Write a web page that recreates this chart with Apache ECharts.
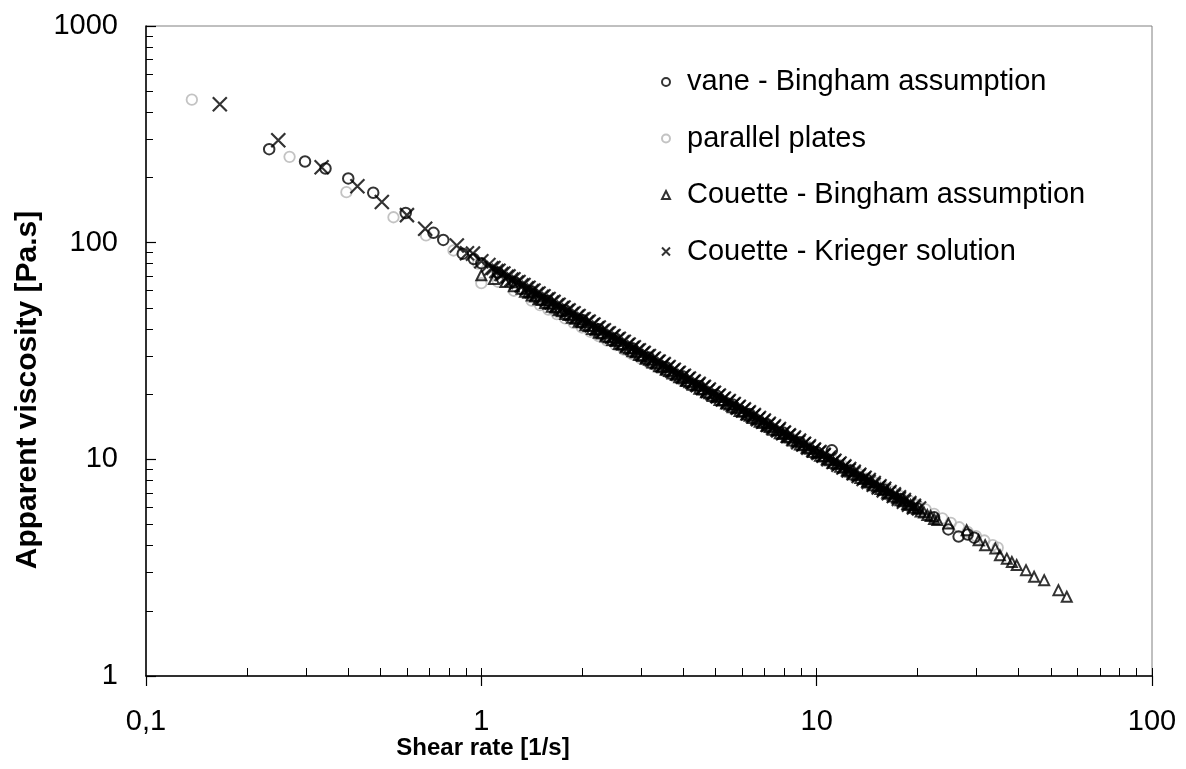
<!DOCTYPE html>
<html>
<head>
<meta charset="utf-8">
<script src="https://cdn.jsdelivr.net/npm/echarts@6/dist/echarts.min.js"></script>
<style>
html,body{margin:0;padding:0;background:#fff;}
#chart{width:1186px;height:769px;}
</style>
</head>
<body>
<div id="chart"></div>
<script>
// ---------- data ----------
const seriesNames = ['vane - Bingham assumption', 'parallel plates', 'Couette - Bingham assumption', 'Couette - Krieger solution'];

const vaneX = [0.233,0.298,0.343,0.401,0.476,0.595,0.72,0.77,0.88,0.95,1.0,1.12,1.26,1.41,1.58,1.78,2.0,2.24,2.51,2.82,3.16,3.55,3.98,4.47,5.01,5.62,6.31,7.08,7.94,8.91,10.0,11.1,12.6,14.1,15.8,17.8,20.0,22.4,24.7,26.5,28.2,29.5];
const vaneY = [270,237,220,198,170,137,111,103,89,84,80.4,72.8,65.7,59.6,54.0,48.7,44.0,39.8,36.1,32.6,29.5,26.7,24.2,21.8,19.8,17.9,16.2,14.6,13.3,12.0,10.8,11.0,8.87,8.04,7.28,6.56,5.93,5.4,4.75,4.4,4.5,4.35];

const plateX = [0.137,0.268,0.396,0.547,0.684,0.826,0.978,1.0,1.12,1.25,
  1.413,1.496,1.585,1.679,1.778,1.884,1.995,2.113,2.239,2.371,2.512,2.661,2.818,2.985,3.162,3.350,3.548,3.758,3.981,4.217,4.467,4.732,5.012,5.309,5.623,5.957,6.310,6.683,7.079,7.499,7.943,8.414,8.913,9.441,10.0,10.59,11.22,11.89,12.59,13.34,14.13,14.96,15.85,16.79,17.78,18.84,19.95,21.13,22.39,23.71,25.12,26.61,28.18,29.85,31.62,33.50,34.67];
const plateY = [457,249,171,131,108,92,80,65,66,60,
  54.0,51.5,49.1,46.8,44.7,42.6,40.6,38.8,37.0,35.3,33.7,32.1,30.6,29.2,27.9,26.6,25.4,24.2,23.1,22.0,21.0,20.0,19.1,18.2,17.4,16.6,15.8,15.1,14.4,13.7,13.1,12.5,11.9,11.4,10.8,10.3,9.86,9.41,8.97,8.56,8.17,7.79,7.43,7.09,6.76,6.45,6.15,5.87,5.60,5.34,5.09,4.86,4.63,4.42,4.22,4.02,3.91];

const couetteBX = [1.0,1.09,1.18,1.25,
  1.318,1.380,1.445,1.514,1.585,1.660,1.738,1.820,1.905,1.995,2.089,2.188,2.291,2.399,2.512,2.630,2.754,2.884,3.020,3.162,3.311,3.467,3.631,3.802,3.981,4.169,4.365,4.571,4.786,5.012,5.248,5.495,5.754,6.026,6.310,6.607,6.918,7.244,7.586,7.943,8.318,8.710,9.120,9.550,10.0,10.47,10.96,11.48,12.02,12.59,13.18,13.80,14.45,15.14,15.85,16.60,17.38,18.20,19.05,19.95,20.89,21.88,22.91,
  24.7,28.0,30.4,31.8,34.1,35.2,36.9,38.2,39.5,42.1,44.5,47.7,52.6,55.7,
  1.349,1.413,1.479,1.549,1.622,1.698,1.778,1.862,1.950,2.042,2.138,2.239,2.344,2.455,2.570,2.692,2.818,2.951,3.090,3.236,3.388,3.548,3.715,3.890,4.074,4.266,4.467,4.677,4.898,5.129,5.370,5.623,5.888,6.166,6.457,6.761,7.079,7.413,7.762,8.128,8.511,8.913,9.333,9.772,10.23,10.72,11.22,11.75,12.30,12.88,13.49,14.13,14.79,15.49,16.22,16.98,17.78,18.62,19.50,20.42,21.38,22.39];
const couetteBY = [70.7,68,65.8,63,
  61.2,58.8,56.5,54.4,52.2,50.2,48.3,46.4,44.6,42.9,41.2,39.6,38.1,36.6,35.2,33.8,32.5,31.2,30.0,28.8,27.7,26.6,25.6,24.6,23.7,22.7,21.9,21.0,20.2,19.4,18.7,17.9,17.2,16.6,15.9,15.3,14.7,14.1,13.6,13.1,12.6,12.1,11.6,11.2,10.7,10.3,9.90,9.51,9.15,8.79,8.45,8.12,7.81,7.50,7.21,6.93,6.66,6.40,6.15,5.92,5.69,5.47,5.25,
  5.05,4.71,4.23,4.01,3.88,3.61,3.48,3.36,3.25,3.08,2.87,2.77,2.49,2.32,
  59.3,57.0,54.8,52.7,50.6,48.7,46.8,45.0,43.2,41.6,39.9,38.4,36.9,35.5,34.1,32.8,31.5,30.3,29.1,28.0,26.9,25.9,24.9,23.9,23.0,22.1,21.2,20.4,19.6,18.8,18.1,17.4,16.7,16.1,15.5,14.9,14.3,13.7,13.2,12.7,12.2,11.7,11.3,10.8,10.4,10.0,9.62,9.25,8.89,8.54,8.21,7.89,7.59,7.29,7.01,6.74,6.48,6.22,5.98,5.75,5.53,5.31];

const kriegerX = [0.166,0.248,0.334,0.427,0.505,0.60,0.68,0.845,0.906,0.944,1.0,
  1.05,1.087,1.125,1.164,1.205,1.247,1.291,1.336,1.383,1.431,1.481,1.533,1.587,1.642,1.7,1.759,1.821,1.885,1.95,2.02,2.09,2.16,2.24,2.32,2.4,2.48,2.57,2.66,2.75,2.85,2.95,3.05,3.16,3.27,3.38,3.5,3.62,3.75,3.88,4.02,4.16,4.3,4.45,4.61,4.77,4.94,5.11,5.29,5.47,5.66,5.86,6.07,6.28,6.5,6.73,6.96,7.2,7.46,7.72,7.99,8.27,8.56,8.86,9.17,9.49,9.82,10.2,10.5,10.9,11.3,11.7,12.1,12.5,12.9,13.4,13.9,14.3,14.8,15.4,15.9,16.5,17.0,17.6,18.2,18.9,19.5,20.2,
  1.072,1.109,1.148,1.189,1.230,1.274,1.318,1.365,1.413,1.462,1.514,1.567,1.622,1.679,1.738,1.799,1.862,1.928,1.995,2.065,2.138,2.213,2.291,2.371,2.455,2.541,2.630,2.723,2.818,2.917,3.020,3.126,3.236,3.350,3.467,3.589,3.715,3.846,3.981,4.121,4.266,4.416,4.571,4.732,4.898,5.070,5.248,5.433,5.623,5.821,6.026,6.237,6.457,6.683,6.918,7.161,7.413,7.674,7.943,8.222,8.511,8.810,9.120,9.441,9.772,10.12,10.47,10.84,11.22,11.61,12.02,12.45,12.88,13.34,13.80,14.29,14.79,15.31,15.85,16.41,16.98,17.58,18.20,18.84,19.50];
const kriegerY = [435,297,223,182,154,134,116,97,89.3,89,82,
  78.8,76.4,74.2,72.0,69.9,67.8,65.8,63.8,61.9,60.1,58.3,56.6,54.9,53.3,51.7,50.2,48.7,47.2,45.9,44.4,43.2,41.9,40.6,39.4,38.2,37.1,36.0,34.9,33.9,32.9,31.9,31.0,30.0,29.2,28.3,27.5,26.7,25.9,25.1,24.3,23.6,22.9,22.3,21.6,21.0,20.3,19.7,19.1,18.6,18.0,17.5,17.0,16.5,16.0,15.5,15.1,14.6,14.2,13.8,13.3,12.9,12.6,12.2,11.8,11.5,11.1,10.8,10.5,10.2,9.85,9.56,9.28,9.02,8.77,8.49,8.22,8.02,7.78,7.51,7.31,7.07,6.89,6.69,6.49,6.28,6.11,5.93,
  76.2,73.9,71.7,69.6,67.5,65.5,63.5,61.6,59.8,58.0,56.3,54.6,53.0,51.4,49.9,48.4,46.9,45.5,44.2,42.9,41.6,40.3,39.1,38.0,36.8,35.7,34.7,33.6,32.6,31.7,30.7,29.8,28.9,28.1,27.2,26.4,25.6,24.9,24.1,23.4,22.7,22.0,21.4,20.7,20.1,19.5,18.9,18.4,17.8,17.3,16.8,16.3,15.8,15.3,14.9,14.4,14.0,13.6,13.2,12.8,12.4,12.0,11.7,11.3,11.0,10.7,10.4,10.0,9.73,9.44,9.16,8.89,8.62,8.37,8.12,7.87,7.64,7.41,7.19,6.98,6.77,6.57,6.37,6.18,6.00];

const xMajorTicks = [0.1, 1, 10, 100];
const yMajorTicks = [1, 10, 100, 1000];
const xMinorTicks = [0.2,0.3,0.4,0.5,0.6,0.7,0.8,0.9,1,2,3,4,5,6,7,8,9,10,20,30,40,50,60,70,80,90,100];
const yMinorTicks = [2,3,4,5,6,7,8,9,20,30,40,50,60,70,80,90,200,300,400,500,600,700,800,900];

const xTitle = 'Shear rate [1/s]';
const yTitle = 'Apparent viscosity [Pa.s]';

// ---------- helpers ----------
function zip(xs, ys) {
  const n = Math.min(xs.length, ys.length);
  const out = [];
  for (let i = 0; i < n; i++) out.push([xs[i], ys[i]]);
  return out;
}
const FONT = '"Liberation Sans", Arial, sans-serif';
const fmt = v => {
  const r = Math.round(v * 1000) / 1000;
  return String(r).replace('.', ',');
};
const CROSS = 'path://M0,0L10,10M0,10L10,0';

const chart = echarts.init(document.getElementById('chart'), null, {renderer: 'canvas'});
chart.setOption({
  animation: false,
  backgroundColor: '#fff',
  textStyle: {fontFamily: FONT},
  grid: {left: 146, right: 34, top: 26, bottom: 93, show: true, borderColor: '#808080', borderWidth: 1, containLabel: false},
  xAxis: [
    {
      type: 'log', logBase: 10, min: 0.1, max: 100, position: 'bottom',
      axisLine: {show: true, lineStyle: {color: '#000', width: 1.5}},
      axisTick: {show: true, inside: false, length: 10, customValues: xMajorTicks, lineStyle: {color: '#000', width: 1.2}},
      axisLabel: {show: true, customValues: xMajorTicks, formatter: fmt, fontSize: 29, color: '#000', margin: 31, fontFamily: FONT},
      splitLine: {show: false}, minorTick: {show: false}
    },
    {
      type: 'log', logBase: 10, min: 0.1, max: 100, position: 'bottom', offset: 0,
      axisLine: {show: false},
      axisTick: {show: true, inside: true, length: 8, customValues: xMinorTicks, lineStyle: {color: '#000', width: 1}},
      axisLabel: {show: false}, splitLine: {show: false}
    }
  ],
  yAxis: [
    {
      type: 'log', logBase: 10, min: 1, max: 1000, position: 'left',
      axisLine: {show: true, lineStyle: {color: '#000', width: 1.5}},
      axisTick: {show: true, inside: true, length: 10, customValues: yMajorTicks, lineStyle: {color: '#000', width: 1.2}},
      axisLabel: {show: true, customValues: yMajorTicks, formatter: fmt, fontSize: 29, color: '#000', margin: 28, fontFamily: FONT},
      splitLine: {show: false}, minorTick: {show: false}
    },
    {
      type: 'log', logBase: 10, min: 1, max: 1000, position: 'left', offset: 0,
      axisLine: {show: false},
      axisTick: {show: true, inside: true, length: 7, customValues: yMinorTicks, lineStyle: {color: '#000', width: 1}},
      axisLabel: {show: false}, splitLine: {show: false}
    }
  ],
  legend: {
    orient: 'vertical', left: 661, top: 67, padding: 0,
    itemWidth: 8, itemHeight: 8, itemGap: 26.5,
    data: seriesNames,
    textStyle: {fontSize: 29, lineHeight: 30, color: '#000', fontFamily: FONT, padding: [0, 0, 0, 12]}
  },
  graphic: [
    {type: 'text', x: 483, y: 748, z: 100,
      style: {text: xTitle, font: 'bold 24px ' + FONT, fill: '#000', align: 'center', verticalAlign: 'middle'}},
    {type: 'text', x: 28, y: 390, rotation: Math.PI / 2, z: 100,
      style: {text: yTitle, font: 'bold 30px ' + FONT, fill: '#000', align: 'center', verticalAlign: 'middle'}}
  ],
  series: [
    {
      name: seriesNames[0], type: 'scatter', xAxisIndex: 0, yAxisIndex: 0, z: 3,
      symbol: 'circle', symbolSize: 10.5,
      itemStyle: {color: 'rgba(0,0,0,0)', borderColor: '#000', borderWidth: 2},
      data: zip(vaneX, vaneY)
    },
    {
      name: seriesNames[1], type: 'scatter', xAxisIndex: 0, yAxisIndex: 0, z: 1,
      symbol: 'circle', symbolSize: 10.5,
      itemStyle: {color: 'rgba(0,0,0,0)', borderColor: '#b4b4b4', borderWidth: 1.8},
      data: zip(plateX, plateY)
    },
    {
      name: seriesNames[2], type: 'scatter', xAxisIndex: 0, yAxisIndex: 0, z: 2,
      symbol: 'triangle', symbolSize: 10,
      itemStyle: {color: 'rgba(0,0,0,0)', borderColor: '#000', borderWidth: 2},
      data: zip(couetteBX, couetteBY)
    },
    {
      name: seriesNames[3], type: 'scatter', xAxisIndex: 0, yAxisIndex: 0, z: 4,
      symbol: CROSS, symbolSize: 14,
      itemStyle: {color: 'rgba(0,0,0,0)', borderColor: '#000', borderWidth: 2.2},
      data: zip(kriegerX, kriegerY)
    }
  ]
});
</script>
</body>
</html>
